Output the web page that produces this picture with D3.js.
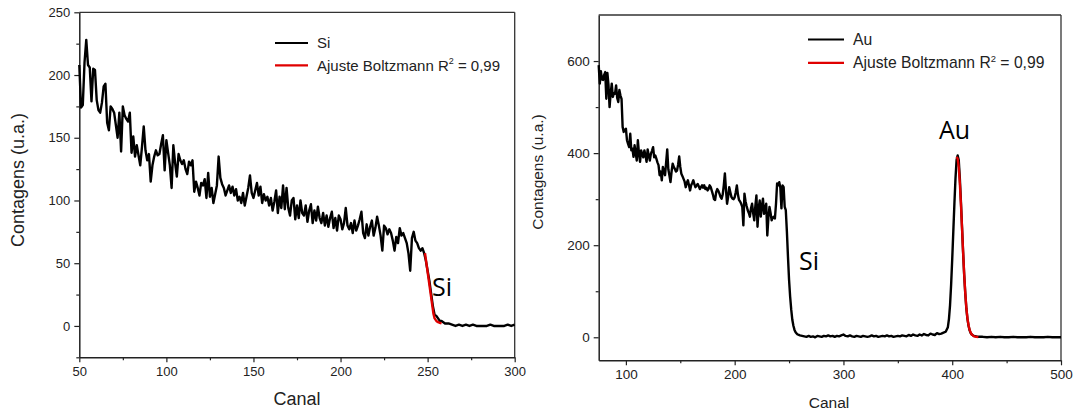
<!DOCTYPE html>
<html>
<head>
<meta charset="utf-8">
<script src="https://cdn.jsdelivr.net/npm/d3@7"></script>
<style>
  body { margin: 0; background: #fff; }
  svg { display: block; }
  .tick text { font-family: "Liberation Sans", Arial, sans-serif; fill: #222; }
</style>
</head>
<body>
<svg id="chart" width="1075" height="412"></svg>
<script>
// Si spectrum (canal, contagens)
const siData = [
  [50,208],[51,174],[52,176],[53,210],[54,228],[55,208],[56,206],[57,179],[58,205],[59,204],
  [60,180],[61,172],[62,170],[63,178],[64,191],[65,193],[66,162],[67,156],[68,175],[69,173],
  [70,170],[71,160],[72,150],[73,170],[74,139],[75,175],[76,168],[77,165],[78,163],[79,170],
  [80,138],[81,151],[82,135],[83,144],[84,136],[85,128],[86,143],[87,159],[88,140],[89,132],
  [90,137],[91,115],[92,128],[93,135],[94,140],[95,136],[96,137],[97,145],[98,152],[99,124],
  [100,148],[101,138],[102,128],[103,110],[104,144],[105,130],[106,119],[107,137],[108,132],[109,129],
  [110,132],[111,125],[112,121],[113,131],[114,128],[115,132],[116,107],[117,115],[118,110],[119,104],
  [120,114],[121,112],[122,117],[123,102],[124,122],[125,103],[126,110],[127,98],[128,105],[129,112],
  [130,135],[131,118],[132,113],[133,110],[134,104],[135,108],[136,112],[137,106],[138,111],[139,104],
  [140,109],[141,100],[142,103],[143,98],[144,106],[145,96],[146,103],[147,110],[148,120],[149,106],
  [150,102],[151,108],[152,114],[153,104],[154,111],[155,98],[156,105],[157,100],[158,103],[159,96],
  [160,102],[161,92],[162,99],[163,108],[164,90],[165,103],[166,94],[167,112],[168,93],[169,110],
  [170,94],[171,88],[172,100],[173,102],[174,85],[175,96],[176,86],[177,100],[178,90],[179,88],
  [180,96],[181,83],[182,92],[183,97],[184,82],[185,92],[186,84],[187,95],[188,86],[189,82],
  [190,90],[191,80],[192,88],[193,79],[194,86],[195,91],[196,78],[197,86],[198,76],[199,88],
  [200,85],[201,77],[202,82],[203,94],[204,80],[205,77],[206,82],[207,74],[208,84],[209,76],
  [210,80],[211,85],[212,91],[213,74],[214,70],[215,81],[216,72],[217,79],[218,84],[219,72],
  [220,78],[221,87],[222,80],[223,72],[224,60],[225,80],[226,78],[227,73],[228,77],[229,74],
  [230,68],[231,60],[232,71],[233,66],[234,78],[235,72],[236,74],[237,70],[238,66],[239,58],
  [240,44],[241,70],[242,75],[243,68],[244,66],[245,62],[246,60],[247,62],[248,58],[249,52],
  [250,44],[251,36],[252,26],[253,16],[254,9],[255,8],[256,6],[257,4],[258,4],[259,3],
  [260,2],[262,2],[264,1],[266,0],[268,1],[270,0],[272,1],[274,0],[276,1],[278,0],
  [280,0],[282,0],[284,0],[286,1],[288,0],[290,0],[292,0],[294,0],[296,1],[298,0],[300,1]
];

// Boltzmann fit on the Si edge
const siFit = [
  [248.5,58],[249.5,48],[250.5,38],[251.5,28],[252.5,18],[253.3,10],[254,6],[255,4],
  [256,3],[257,2.5],[258,2]
];

// Au on Si spectrum (canal, contagens)
const auData = [
  [75,591],[76,551],[77,578],[78,560],[79,559],[80,570],[81,576],[82,518],[83,574],[84,548],
  [85,500],[86,530],[87,551],[88,522],[89,530],[90,529],[91,547],[92,520],[93,511],[94,537],
  [95,525],[96,518],[97,457],[98,446],[99,450],[100,453],[101,428],[102,420],[103,413],[104,442],
  [105,406],[106,410],[107,392],[108,417],[109,400],[110,384],[111,428],[112,400],[113,381],[114,406],
  [115,398],[116,391],[117,406],[118,395],[119,381],[120,408],[121,395],[122,384],[123,399],[124,405],
  [125,413],[126,391],[127,395],[128,388],[129,380],[130,374],[131,352],[132,360],[133,341],[134,370],
  [135,360],[136,352],[137,380],[138,408],[139,365],[140,352],[141,337],[142,360],[143,377],[144,370],
  [145,366],[146,360],[147,362],[148,375],[149,393],[150,370],[151,355],[152,350],[153,344],[154,338],
  [155,326],[156,335],[157,341],[158,330],[159,319],[160,330],[161,335],[162,341],[163,332],[164,326],
  [165,330],[166,333],[167,328],[168,322],[169,326],[170,330],[171,325],[172,330],[173,322],[174,325],
  [175,319],[176,322],[177,330],[178,326],[179,318],[180,310],[181,300],[182,298],[183,315],[184,322],
  [185,318],[186,312],[187,305],[188,301],[189,310],[190,330],[191,356],[192,320],[193,290],[194,305],
  [195,326],[196,315],[197,305],[198,301],[199,300],[200,304],[201,315],[202,330],[203,310],[204,298],
  [205,295],[206,290],[207,283],[208,243],[209,312],[210,295],[211,285],[212,276],[213,270],[214,262],
  [215,280],[216,290],[217,270],[218,254],[219,285],[220,308],[221,240],[222,280],[223,297],[224,262],
  [225,285],[226,301],[227,268],[228,280],[229,290],[230,221],[231,260],[232,283],[233,270],[234,254],
  [235,260],[236,262],[237,258],[238,290],[239,334],[240,330],[241,337],[242,325],[243,280],[244,330],
  [245,326],[246,283],[247,276],[248,230],[249,175],[250,125],[251,88],[252,60],[253,38],[254,25],
  [255,16],[256,11],[257,8],[258,6],[259,5],[260,4],[262,3],[264,2],[266,1],[268,3],
  [270,1],[272,2],[274,0],[276,3],[278,2],[280,1],[282,3],[284,2],[286,4],[288,2],
  [290,3],[292,1],[294,3],[296,2],[298,4],[300,6],[302,3],[304,2],[306,4],[308,2],
  [310,1],[312,3],[314,2],[316,1],[318,3],[320,2],[322,1],[324,2],[326,4],[328,2],
  [330,3],[332,1],[334,2],[336,3],[338,2],[340,4],[342,2],[344,3],[346,1],[348,2],
  [350,3],[352,2],[354,4],[356,3],[358,2],[360,5],[362,3],[364,6],[366,4],[368,3],
  [370,6],[372,4],[374,7],[376,5],[378,4],[380,8],[382,6],[384,5],[386,9],[388,7],
  [390,8],[392,10],[394,12],[396,22],[397,40],[398,70],[399,115],[400,170],[401,230],[402,290],
  [403,345],[404,385],[405,395],[406,385],[407,345],[408,295],[409,240],[410,185],[411,135],[412,95],
  [413,62],[414,40],[415,25],[416,15],[417,9],[418,6],[419,4],[420,3],[422,2],[424,1],
  [428,1],[432,0],[436,1],[440,0],[444,1],[448,0],[452,0],[456,1],[460,0],[464,0],
  [468,0],[472,1],[476,0],[480,0],[484,0],[488,1],[492,0],[496,0],[500,0]
];

// Boltzmann fit on the Au peak
const auFit = [
  [404,392],[405,388],[406,370],[407,335],[408,290],[409,238],[410,185],[411,137],[412,96],
  [413,64],[414,41],[415,26],[416,16],[417,10],[418,6],[419,4],[420,2],[422,1],[424,0.5]
];

const svg = d3.select("#chart");
const font = "'Liberation Sans', Arial, sans-serif";

function drawPanel(opt) {
  const x = d3.scaleLinear().domain(opt.xDomain).range(opt.xRange);
  const y = d3.scaleLinear().domain(opt.yDomain).range(opt.yRange);
  const g = svg.append("g");

  // frame (top and right)
  g.append("line")
    .attr("x1", opt.xRange[0]).attr("x2", opt.xRange[1])
    .attr("y1", opt.yRange[1]).attr("y2", opt.yRange[1])
    .attr("stroke", "#333").attr("stroke-width", 1.3);
  g.append("line")
    .attr("x1", opt.xRange[1]).attr("x2", opt.xRange[1])
    .attr("y1", opt.yRange[0]).attr("y2", opt.yRange[1])
    .attr("stroke", "#333").attr("stroke-width", 1.3);

  // minor ticks
  g.append("g")
    .attr("transform", `translate(0,${opt.yRange[0]})`)
    .call(d3.axisBottom(x).tickValues(opt.xMinor).tickSize(3).tickFormat(""))
    .call(a => a.select(".domain").remove());
  g.append("g")
    .attr("transform", `translate(${opt.xRange[0]},0)`)
    .call(d3.axisLeft(y).tickValues(opt.yMinor).tickSize(3).tickFormat(""))
    .call(a => a.select(".domain").remove());

  const xAxis = g.append("g")
    .attr("transform", `translate(0,${opt.yRange[0]})`)
    .call(d3.axisBottom(x).tickValues(opt.xTicks).tickSize(5).tickPadding(4).tickSizeOuter(0));
  const yAxis = g.append("g")
    .attr("transform", `translate(${opt.xRange[0]},0)`)
    .call(d3.axisLeft(y).tickValues(opt.yTicks).tickSize(5).tickPadding(4).tickSizeOuter(0));

  [xAxis, yAxis].forEach(a => {
    a.selectAll(".domain").attr("stroke", "#222").attr("stroke-width", 1.5);
    a.selectAll(".tick text").style("font-size", opt.tickSize + "px").style("font-family", font);
  });
  g.selectAll(".tick line").attr("stroke", "#222").attr("stroke-width", 1.2);

  const line = d3.line().x(d => x(d[0])).y(d => y(d[1]));

  g.append("path").datum(opt.data)
    .attr("d", line).attr("fill", "none")
    .attr("stroke", "#000").attr("stroke-width", 2.4).attr("stroke-linejoin", "round");
  g.append("path").datum(opt.fit)
    .attr("d", line).attr("fill", "none")
    .attr("stroke", "#e00000").attr("stroke-width", 2.4).attr("stroke-linejoin", "round");

  // axis titles
  g.append("text")
    .attr("x", opt.xTitle[0]).attr("y", opt.xTitle[1])
    .attr("text-anchor", "middle")
    .style("font-family", font).style("font-size", opt.titleSize + "px").style("fill", "#222")
    .text("Canal");
  g.append("text")
    .attr("transform", `translate(${opt.yTitle[0]},${opt.yTitle[1]}) rotate(-90)`)
    .attr("text-anchor", "middle")
    .style("font-family", font).style("font-size", opt.titleSize + "px").style("fill", "#222")
    .text("Contagens (u.a.)");

  // legend
  const lg = g.append("g").attr("transform", `translate(${opt.legend[0]},${opt.legend[1]})`);
  [[opt.name, "#000"], ["fit", "#e00000"]].forEach((it, i) => {
    const yy = i * opt.legendGap;
    lg.append("line").attr("x1", 0).attr("x2", opt.legendLen).attr("y1", yy).attr("y2", yy)
      .attr("stroke", it[1]).attr("stroke-width", 2.2);
    const t = lg.append("text").attr("x", opt.legendLen + 9).attr("y", yy + opt.legendSize * 0.36)
      .style("font-family", font).style("font-size", opt.legendSize + "px").style("fill", "#222");
    if (i === 0) {
      t.text(it[0]);
    } else {
      t.append("tspan").text("Ajuste Boltzmann R");
      t.append("tspan").attr("dy", -opt.legendSize * 0.42)
        .style("font-size", (opt.legendSize * 0.6) + "px").text("2");
      t.append("tspan").attr("dy", opt.legendSize * 0.42).text(" = 0,99");
    }
  });

  // peak annotations
  opt.labels.forEach(l => {
    g.append("text").attr("x", l[1]).attr("y", l[2])
      .style("font-family", "'Open Sans', sans-serif").style("font-size", "25px").style("fill", "#000")
      .text(l[0]);
  });
}

drawPanel({
  data: siData, fit: siFit, name: "Si",
  xDomain: [50, 300], xRange: [79.3, 514.7],
  yDomain: [-25, 250], yRange: [357.3, 12.3],
  xTicks: [50, 100, 150, 200, 250, 300], xMinor: [75, 125, 175, 225, 275],
  yTicks: [0, 50, 100, 150, 200, 250], yMinor: [-25, 25, 75, 125, 175, 225],
  tickSize: 13, titleSize: 18,
  xTitle: [297, 405], yTitle: [24, 180],
  legend: [275, 43], legendLen: 33, legendGap: 22.3, legendSize: 15,
  labels: [["Si", 432, 296]]
});

drawPanel({
  data: auData, fit: auFit, name: "Au",
  xDomain: [75, 500], xRange: [598.7, 1061],
  yDomain: [-50, 700], yRange: [360.3, 15],
  xTicks: [100, 200, 300, 400, 500], xMinor: [150, 250, 350, 450],
  yTicks: [0, 200, 400, 600], yMinor: [100, 300, 500],
  tickSize: 13.5, titleSize: 15.5,
  xTitle: [829, 408], yTitle: [543, 172],
  legend: [808, 39.5], legendLen: 36, legendGap: 23.3, legendSize: 15.7,
  labels: [["Si", 799, 270], ["Au", 939, 139]]
});
</script>
</body>
</html>
